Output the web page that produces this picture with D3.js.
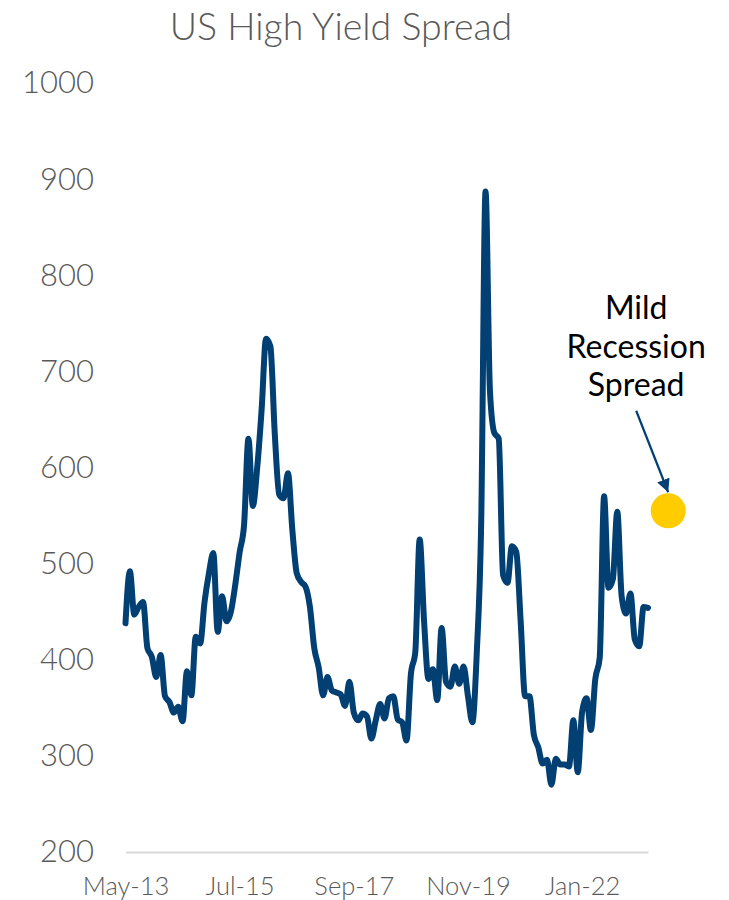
<!DOCTYPE html>
<html>
<head>
<meta charset="utf-8">
<script src="https://cdn.jsdelivr.net/npm/d3@7"></script>
<style>
  html, body { margin: 0; padding: 0; background: #ffffff; }
  svg { display: block; }
</style>
</head>
<body>
<svg id="chart" width="729" height="900"></svg>
<script>
// ---- Data ----
const startYear = 2013, startMonth = 4; // May-13 (0-based month)
const spreadValues = [
  438, 492, 447, 455, 460, 412, 403, 382, 405, 362,
  356, 345, 351, 336, 388, 363, 424, 417, 460, 490,
  511, 429, 466, 440, 450, 478, 512, 540, 630, 560,
  600, 660, 734, 726, 635, 572, 568, 594, 535, 490,
  481, 476, 455, 412, 392, 363, 382, 368, 366, 364,
  352, 377, 345, 337, 344, 341, 318, 337, 354, 339,
  360, 362, 338, 335, 316, 385, 408, 525, 440, 380,
  390, 358, 433, 377, 372, 393, 375, 393, 362, 335,
  407, 540, 887, 680, 636, 630, 488, 480, 518, 512,
  440, 362, 362, 322, 309, 292, 296, 270, 297, 291,
  291, 289, 337, 283, 346, 360, 327, 380, 402, 570,
  475, 484, 554, 466, 448, 469, 421, 414, 455, 454
];
const monthNames = ["Jan","Feb","Mar","Apr","May","Jun","Jul","Aug","Sep","Oct","Nov","Dec"];
const categories = spreadValues.map((_, i) => {
  const m = startMonth + i;
  const y = startYear + Math.floor(m / 12);
  return monthNames[m % 12] + "-" + String(y % 100).padStart(2, "0");
});
const xTickLabels = ["May-13", "Jul-15", "Sep-17", "Nov-19", "Jan-22"];
const yTickValues = [200, 300, 400, 500, 600, 700, 800, 900, 1000];
const recessionSpread = 555;
const recessionPosition = 123.6; // position along the month axis
const annotationLines = ["Mild", "Recession", "Spread"];
const titleText = "US High Yield Spread";

// ---- Layout ----
const svg = d3.select("#chart");
const x = d3.scaleLinear().domain([0, spreadValues.length - 1]).range([125.5, 648]);
const y = d3.scaleLinear().domain([200, 1000]).range([852, 83]);

const textColor = "#595959";
const lineColor = "#023f73";

// Title
svg.append("text")
  .attr("x", 341).attr("y", 40)
  .attr("text-anchor", "middle")
  .attr("font-family", "Lato, 'Open Sans', sans-serif")
  .attr("font-weight", 300)
  .attr("font-size", 37.5)
  .attr("fill", textColor)
  .text(titleText);

// Y axis (labels only)
const yAxis = d3.axisLeft(y).tickValues(yTickValues).tickFormat(d3.format("d")).tickSize(0).tickPadding(0);
const yG = svg.append("g").attr("transform", "translate(94,0)").call(yAxis);
yG.select(".domain").remove();
yG.selectAll("text")
  .attr("font-family", "Lato, 'Open Sans', sans-serif")
  .attr("font-weight", 300)
  .attr("font-size", 31)
  .attr("fill", textColor);

// X axis
const xIdx = xTickLabels.map(l => categories.indexOf(l));
const xAxis = d3.axisBottom(x).tickValues(xIdx).tickFormat(i => categories[i]).tickSize(0).tickPadding(0);
const xG = svg.append("g").attr("transform", `translate(0,${y(200)})`).call(xAxis);
xG.select(".domain").attr("stroke", "#d9d9d9").attr("stroke-width", 2);
xG.selectAll("text")
  .attr("dy", 0)
  .attr("y", 43)
  .attr("font-family", "Lato, 'Open Sans', sans-serif")
  .attr("font-weight", 300)
  .attr("font-size", 25.5)
  .attr("fill", textColor);

// Line
const line = d3.line()
  .x((d, i) => x(i))
  .y(d => y(d))
  .curve(d3.curveMonotoneX);
svg.append("path")
  .datum(spreadValues)
  .attr("d", line)
  .attr("fill", "none")
  .attr("stroke", lineColor)
  .attr("stroke-width", 6)
  .attr("stroke-linejoin", "round")
  .attr("stroke-linecap", "round");

// Recession dot
const cx = x(recessionPosition), cy = y(recessionSpread), r = 17.5;
svg.append("circle")
  .attr("cx", cx).attr("cy", cy).attr("r", r)
  .attr("fill", "#ffcc00");

// Arrow
const defs = svg.append("defs");
defs.append("marker")
  .attr("id", "arrowhead")
  .attr("viewBox", "0 0 10 10")
  .attr("refX", 10).attr("refY", 5)
  .attr("markerWidth", 6).attr("markerHeight", 6)
  .attr("markerUnits", "strokeWidth")
  .attr("orient", "auto")
  .append("path")
  .attr("d", "M0,0 L10,5 L0,10 Z")
  .attr("fill", lineColor);
svg.append("line")
  .attr("x1", cx - 32).attr("y1", cy - 100)
  .attr("x2", cx).attr("y2", cy - r - 1)
  .attr("stroke", lineColor)
  .attr("stroke-width", 2.2)
  .attr("marker-end", "url(#arrowhead)");

// Annotation text
const ann = svg.append("text")
  .attr("text-anchor", "middle")
  .attr("font-family", "Lato, 'Open Sans', sans-serif")
  .attr("font-weight", 400)
  .attr("font-size", 32)
  .attr("fill", "#000000");
annotationLines.forEach((t, i) => {
  ann.append("tspan").attr("x", cx - 32).attr("y", 319 + i * 38.5).text(t);
});
</script>
</body>
</html>
